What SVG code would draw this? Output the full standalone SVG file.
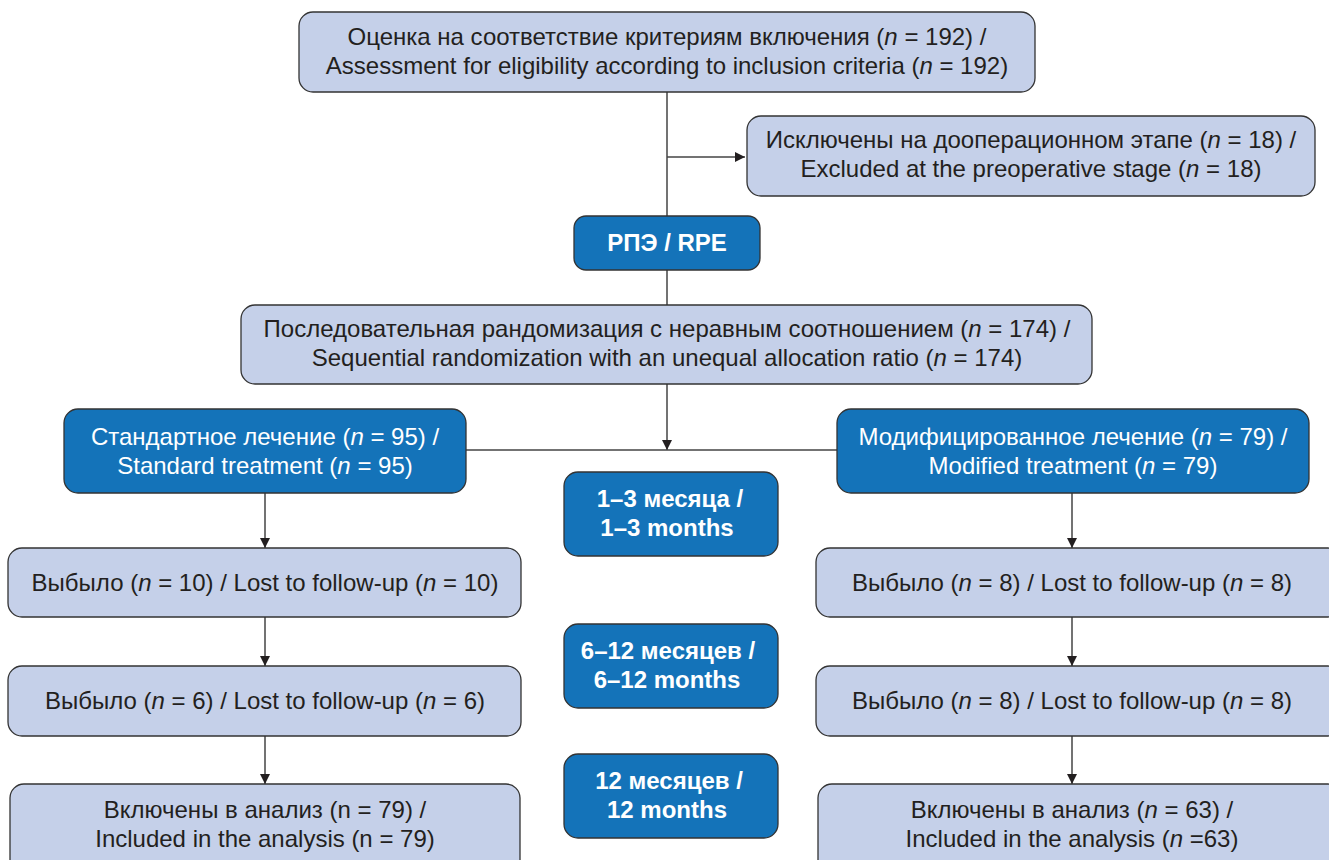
<svg xmlns="http://www.w3.org/2000/svg" width="1329" height="860" viewBox="0 0 1329 860">
<defs>
<marker id="ah" viewBox="0 0 10 10" refX="10" refY="5" markerWidth="10" markerHeight="10" markerUnits="userSpaceOnUse" orient="auto">
<path d="M0,0 L10,5 L0,10 z" fill="#231f20"/>
</marker>
<style>
.lt{fill:#c5d0e9;stroke:#333;stroke-width:1.3}
.dk{fill:#1473b9;stroke:#333;stroke-width:1.3}
.t{font-family:"Liberation Sans",Arial,sans-serif;font-size:24px;fill:#231f20;text-anchor:middle}
.w{font-family:"Liberation Sans",Arial,sans-serif;font-size:24px;fill:#fff;text-anchor:middle}
.b{font-family:"Liberation Sans",Arial,sans-serif;font-size:24px;font-weight:bold;fill:#fff;text-anchor:middle}
.c{fill:none;stroke:#444;stroke-width:1.5}
</style>
</defs>
<rect width="1329" height="860" fill="#fff"/>
<g id="connectors">
<line class="c" x1="667" y1="92" x2="667" y2="305"/>
<line class="c" x1="667" y1="157" x2="745" y2="157" marker-end="url(#ah)"/>
<line class="c" x1="667" y1="384" x2="667" y2="450" marker-end="url(#ah)"/>
<line class="c" x1="466" y1="450" x2="837" y2="450"/>
<line class="c" x1="265" y1="493" x2="265" y2="548" marker-end="url(#ah)"/>
<line class="c" x1="265" y1="617" x2="265" y2="666" marker-end="url(#ah)"/>
<line class="c" x1="265" y1="736" x2="265" y2="784" marker-end="url(#ah)"/>
<line class="c" x1="1072" y1="493" x2="1072" y2="548" marker-end="url(#ah)"/>
<line class="c" x1="1072" y1="617" x2="1072" y2="666" marker-end="url(#ah)"/>
<line class="c" x1="1072" y1="736" x2="1072" y2="784" marker-end="url(#ah)"/>
</g>
<g id="assess">
<rect class="lt" x="299" y="12" width="736" height="80" rx="14"/>
<text class="t" x="667" y="45">Оценка на соответствие критериям включения (<tspan font-style="italic">n</tspan> = 192) /</text>
<text class="t" x="667" y="74">Assessment for eligibility according to inclusion criteria (<tspan font-style="italic">n</tspan> = 192)</text>
</g>
<g id="excluded">
<rect class="lt" x="747" y="116" width="568" height="80" rx="14"/>
<text class="t" x="1031" y="148">Исключены на дооперационном этапе (<tspan font-style="italic">n</tspan> = 18) /</text>
<text class="t" x="1031" y="177">Excluded at the preoperative stage (<tspan font-style="italic">n</tspan> = 18)</text>
</g>
<g id="rpe">
<rect class="dk" x="574" y="216" width="186" height="54" rx="12"/>
<text class="b" x="667" y="251">РПЭ / RPE</text>
</g>
<g id="random">
<rect class="lt" x="241" y="305" width="851" height="79" rx="14"/>
<text class="t" x="667" y="337">Последовательная рандомизация с неравным соотношением (<tspan font-style="italic">n</tspan> = 174) /</text>
<text class="t" x="667" y="366">Sequential randomization with an unequal allocation ratio (<tspan font-style="italic">n</tspan> = 174)</text>
</g>
<g id="standard">
<rect class="dk" x="64" y="409" width="402" height="84" rx="14"/>
<text class="w" x="265" y="445">Стандартное лечение (<tspan font-style="italic">n</tspan> = 95) /</text>
<text class="w" x="265" y="474">Standard treatment (<tspan font-style="italic">n</tspan> = 95)</text>
</g>
<g id="modified">
<rect class="dk" x="837" y="409" width="472" height="84" rx="14"/>
<text class="w" x="1073" y="445">Модифицированное лечение (<tspan font-style="italic">n</tspan> = 79) /</text>
<text class="w" x="1073" y="474">Modified treatment (<tspan font-style="italic">n</tspan> = 79)</text>
</g>
<g id="m1_3">
<rect class="dk" x="564" y="472" width="214" height="84" rx="14"/>
<text class="b" x="670" y="507">1–3 месяца /</text>
<text class="b" x="667" y="536">1–3 months</text>
</g>
<g id="m6_12">
<rect class="dk" x="564" y="624" width="214" height="84" rx="14"/>
<text class="b" x="668" y="659">6–12 месяцев /</text>
<text class="b" x="667" y="688">6–12 months</text>
</g>
<g id="m12">
<rect class="dk" x="564" y="754" width="214" height="84" rx="14"/>
<text class="b" x="669" y="789">12 месяцев /</text>
<text class="b" x="667" y="818">12 months</text>
</g>
<g id="lostL1">
<rect class="lt" x="8" y="548" width="513" height="69" rx="14"/>
<text class="t" x="265" y="591">Выбыло (<tspan font-style="italic">n</tspan> = 10) / Lost to follow-up (<tspan font-style="italic">n</tspan> = 10)</text>
</g>
<g id="lostL2">
<rect class="lt" x="8" y="666" width="513" height="70" rx="14"/>
<text class="t" x="265" y="709">Выбыло (<tspan font-style="italic">n</tspan> = 6) / Lost to follow-up (<tspan font-style="italic">n</tspan> = 6)</text>
</g>
<g id="inclL">
<rect class="lt" x="10" y="784" width="510" height="90" rx="14"/>
<text class="t" x="265" y="818">Включены в анализ (n = 79) /</text>
<text class="t" x="265" y="847">Included in the analysis (n = 79)</text>
</g>
<g id="lostR1">
<rect class="lt" x="816" y="548" width="526" height="69" rx="14"/>
<text class="t" x="1072" y="591">Выбыло (<tspan font-style="italic">n</tspan> = 8) / Lost to follow-up (<tspan font-style="italic">n</tspan> = 8)</text>
</g>
<g id="lostR2">
<rect class="lt" x="816" y="666" width="526" height="70" rx="14"/>
<text class="t" x="1072" y="709">Выбыло (<tspan font-style="italic">n</tspan> = 8) / Lost to follow-up (<tspan font-style="italic">n</tspan> = 8)</text>
</g>
<g id="inclR">
<rect class="lt" x="818" y="784" width="524" height="90" rx="14"/>
<text class="t" x="1072" y="818">Включены в анализ (<tspan font-style="italic">n</tspan> = 63) /</text>
<text class="t" x="1072" y="847">Included in the analysis (<tspan font-style="italic">n</tspan> =63)</text>
</g>
</svg>
